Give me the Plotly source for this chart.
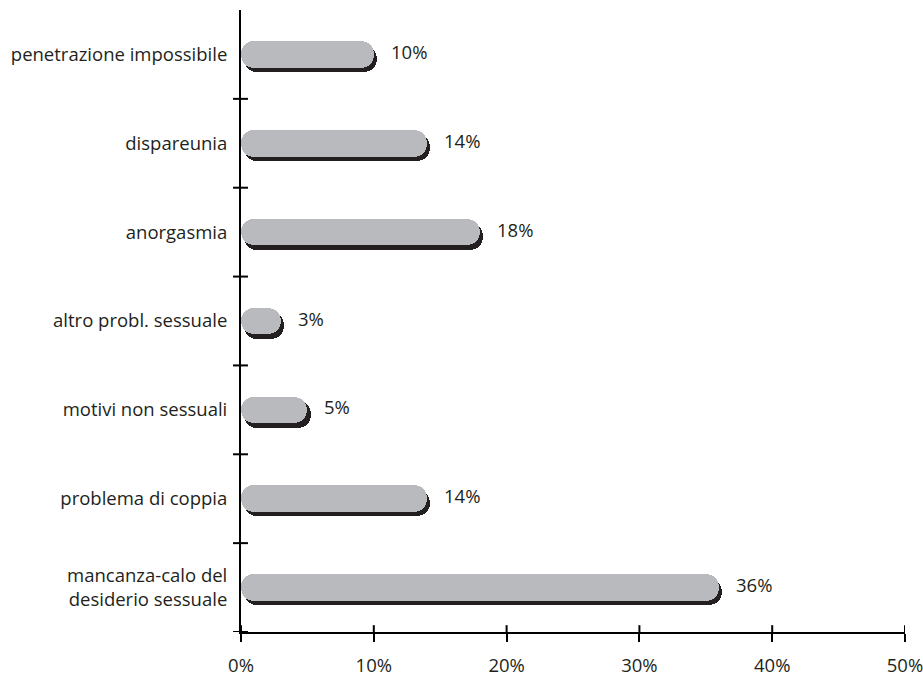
import plotly.graph_objects as go

categories = ["penetrazione impossibile", "dispareunia", "anorgasmia",
              "altro probl. sessuale", "motivi non sessuali", "problema di coppia",
              "mancanza-calo del<br>desiderio sessuale"]
values = [10, 14, 18, 3, 5, 14, 36]
x_ticks = [0, 10, 20, 30, 40, 50]
x_tick_labels = ["0%", "10%", "20%", "30%", "40%", "50%"]

n = len(categories)
ypos = [n - 1 - i for i in range(n)]

GRAY = "#b9babe"
DARK = "#231f20"
FONT = "Open Sans"
FS = 18.5
W = 0.30
DY = 0.05    # shadow shift (category units)
DX = 0.25    # shadow shift (% units)
R = 13

fig = go.Figure()

def pill(color, dx, dy):
    fig.add_trace(go.Bar(y=ypos, x=values, base=[dx] * n,
                         orientation="h", width=W, offset=-W / 2 - dy,
                         marker=dict(color=color, line=dict(width=0), cornerradius=R),
                         hoverinfo="skip", showlegend=False))

pill(DARK, DX, DY)
pill(GRAY, 0, 0)

for v, y in zip(values, ypos):
    fig.add_annotation(x=v, y=y, text=f"{v}%", showarrow=False, xanchor="left",
                       xshift=15, yshift=3, font=dict(family=FONT, size=FS, color=DARK))

shapes = []
for k in range(n):
    shapes.append(dict(type="line", xref="x domain", yref="y", x0=-0.012, x1=0.0105,
                       y0=k - 0.5, y1=k - 0.5, line=dict(color="black", width=2)))
for t in x_ticks:
    shapes.append(dict(type="line", xref="x", yref="y domain", x0=t, x1=t,
                       y0=0, y1=0.011, line=dict(color="black", width=2)))

fig.update_layout(
    width=923, height=677,
    margin=dict(l=241, r=18, t=10, b=45, autoexpand=False),
    paper_bgcolor="white", plot_bgcolor="white",
    barmode="overlay", bargap=0,
    font=dict(family=FONT, size=FS, color=DARK),
    shapes=shapes,
    xaxis=dict(range=[0, 50], tickvals=x_ticks, ticktext=x_tick_labels, automargin=False,
               ticklabeloverflow="allow",
               showgrid=False, zeroline=False, showline=True, linecolor="black", linewidth=2,
               ticks="outside", ticklen=8, tickwidth=2, tickcolor="black",
               ticklabelstandoff=8, tickfont=dict(family=FONT, size=FS, color=DARK)),
    yaxis=dict(range=[-0.5, n - 0.5], tickvals=ypos, ticktext=categories, automargin=False,
               ticklabeloverflow="allow",
               showgrid=False, zeroline=False, showline=True, linecolor="black", linewidth=2,
               ticks="", ticklabelstandoff=8, tickfont=dict(family=FONT, size=FS, color=DARK)),
)

fig.write_html("out.html")
